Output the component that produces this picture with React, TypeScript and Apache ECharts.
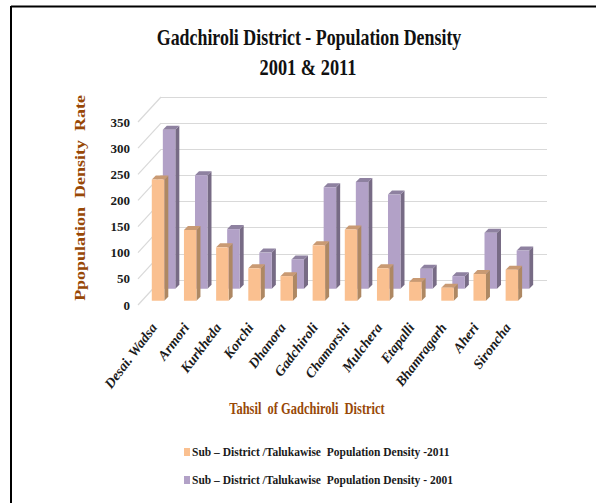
import React, { useEffect, useRef } from "react";
import * as echarts from "echarts";

const tahsils = ["Desai. Wadsa", "Armori", "Kurkheda", "Korchi", "Dhanora", "Gadchiroli", "Chamorshi", "Mulchera", "Etapalli", "Bhamragarh", "Aheri", "Sironcha"];
const density2011 = [232, 135, 102, 62, 47, 106, 136, 62, 36, 25, 51, 59];
const density2001 = [304, 217, 114, 69, 56, 194, 204, 180, 38, 24, 107, 73];
const name2011 = "Sub – District /Talukawise  Population Density -2011";
const name2001 = "Sub – District /Talukawise  Population Density - 2001";
const yTicks = [0, 50, 100, 150, 200, 250, 300, 350];

const SERIF = "'Liberation Serif', 'Times New Roman', serif";
const WALL_DX = 23;
const WALL_DY = 25;
const BAR_W = 12.5;
const BAR_D = 4;

// Oblique-projected cuboid: depth moves a bar up and right from the front plane.
function cuboid(depth: number, front: string, top: string, side: string) {
  return (_: any, api: any) => {
    const [cx, y1] = api.coord([api.value(0), api.value(1)]);
    const [, y0] = api.coord([api.value(0), 0]);
    const x = cx + depth * 0.92 - BAR_W / 2;
    const yt = y1 - depth;
    const yb = y0 - depth;
    const r = x + BAR_W;
    return {
      type: "group",
      children: [
        { type: "polygon", shape: { points: [[r, yt], [r + BAR_D, yt - BAR_D], [r + BAR_D, yb - BAR_D], [r, yb]] }, style: { fill: side } },
        { type: "polygon", shape: { points: [[x, yt], [x + BAR_D, yt - BAR_D], [r + BAR_D, yt - BAR_D], [r, yt]] }, style: { fill: top } },
        { type: "rect", shape: { x, y: yt, width: BAR_W, height: yb - yt }, style: { fill: front } },
      ],
    };
  };
}

// Slanted wall lines joining the front-plane ticks to the back wall.
function wallSlant(_: any, api: any) {
  const [x, y] = api.coord([0, api.value(0)]);
  const left = x - api.size([1, 0])[0] / 2;
  return {
    type: "line",
    shape: { x1: left, y1: y, x2: left + WALL_DX, y2: y - WALL_DY },
    style: { stroke: "#d9d9d9", lineWidth: 1.2 },
  };
}

export default function App() {
  const ref = useRef<HTMLDivElement>(null);
  useEffect(() => {
    const chart = echarts.init(ref.current!, undefined, { renderer: "svg" });
    chart.setOption({
      animation: false,
      backgroundColor: "#ffffff",
      grid: [
        { left: 138, right: 72, top: 122, bottom: 198 },
        { left: 161, right: 49, top: 97, bottom: 223 },
      ],
      xAxis: [
        {
          type: "category",
          gridIndex: 0,
          data: tahsils,
          axisLine: { show: false },
          axisTick: { show: false },
          axisLabel: {
            interval: 0,
            rotate: 53,
            margin: 20,
            fontFamily: SERIF,
            fontWeight: "bold",
            fontStyle: "italic",
            fontSize: 14,
            color: "#1a1a1a",
          },
        },
        { type: "category", gridIndex: 1, data: tahsils, show: false },
      ],
      yAxis: [
        {
          type: "value",
          gridIndex: 0,
          min: 0,
          max: 350,
          interval: 50,
          axisLine: { show: false },
          axisTick: { show: false },
          splitLine: { show: false },
          axisLabel: { margin: 8, fontFamily: SERIF, fontWeight: "bold", fontSize: 13, color: "#1a1a1a" },
        },
        {
          type: "value",
          gridIndex: 1,
          min: 0,
          max: 350,
          interval: 50,
          axisLine: { show: false },
          axisTick: { show: false },
          axisLabel: { show: false },
          splitLine: { lineStyle: { color: "#d9d9d9", width: 1.2 } },
        },
      ],
      legend: {
        left: 179,
        top: 441,
        orient: "vertical",
        itemWidth: 6,
        itemHeight: 8,
        itemGap: 16,
        icon: "rect",
        data: [
          { name: name2011, itemStyle: { color: "#FAC090" } },
          { name: name2001, itemStyle: { color: "#B2A1C7" } },
        ],
        textStyle: { fontFamily: SERIF, fontWeight: "bold", fontSize: 11.5, color: "#1a1a1a", padding: [0, 0, 0, -3] },
      },
      series: [
        {
          type: "custom",
          name: "wall",
          silent: true,
          xAxisIndex: 0,
          yAxisIndex: 0,
          data: yTicks.map((v) => [v]),
          encode: { y: 0 },
          renderItem: wallSlant,
          z: 1,
        },
        {
          type: "custom",
          name: name2001,
          xAxisIndex: 0,
          yAxisIndex: 0,
          data: density2001.map((v, i) => [i, v]),
          encode: { x: 0, y: 1 },
          renderItem: cuboid(16.3, "#B2A1C7", "#8E81A0", "#776B85"),
          z: 2,
        },
        {
          type: "custom",
          name: name2011,
          xAxisIndex: 0,
          yAxisIndex: 0,
          data: density2011.map((v, i) => [i, v]),
          encode: { x: 0, y: 1 },
          renderItem: cuboid(4.3, "#FAC090", "#C99A73", "#AE8863"),
          z: 3,
        },
      ],
      graphic: [
        { type: "line", shape: { x1: 11, y1: 6.5, x2: 596, y2: 6.5 }, style: { stroke: "#000", lineWidth: 2 } },
        { type: "line", shape: { x1: 11, y1: 6, x2: 11, y2: 503 }, style: { stroke: "#000", lineWidth: 2 } },
        {
          type: "text", x: 309, y: 37, scaleX: 0.745,
          style: { text: "Gadchiroli District - Population Density", font: `bold 24px ${SERIF}`, fill: "#111", align: "center", verticalAlign: "middle" },
        },
        {
          type: "text", x: 308, y: 67, scaleX: 0.765,
          style: { text: "2001 & 2011", font: `bold 24px ${SERIF}`, fill: "#111", align: "center", verticalAlign: "middle" },
        },
        {
          type: "text", x: 80, y: 198, rotation: Math.PI / 2, scaleX: 1.2,
          style: { text: "Ppopulation  Density  Rate", font: `bold 15px ${SERIF}`, fill: "#984806", align: "center", verticalAlign: "middle" },
        },
        {
          type: "text", x: 307, y: 408, scaleX: 0.78,
          style: { text: "Tahsil  of Gadchiroli  District", font: `bold 16px ${SERIF}`, fill: "#984806", align: "center", verticalAlign: "middle" },
        },
      ],
    });
    return () => chart.dispose();
  }, []);
  return <div ref={ref} style={{ position: "absolute", left: 0, top: 0, width: 596, height: 503 }} />;
}
